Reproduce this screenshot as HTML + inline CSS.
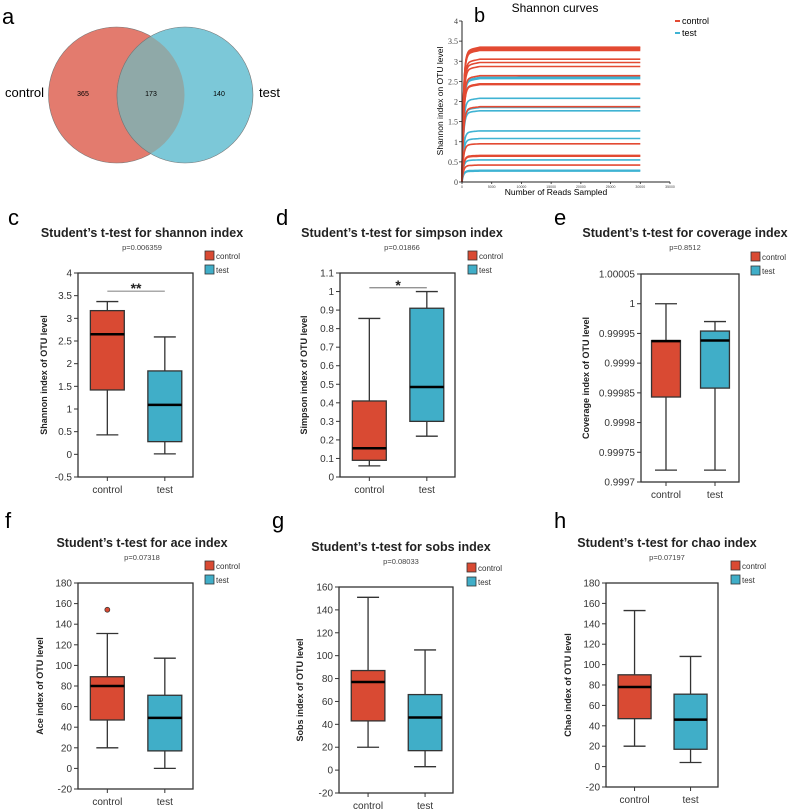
<!DOCTYPE html>
<html><head><meta charset="utf-8"><style>
html,body{margin:0;padding:0;background:#fff;}
svg{display:block;font-family:"Liberation Sans",sans-serif;}
</style></head><body>
<svg id="fig" width="798" height="810" viewBox="0 0 798 810" xmlns="http://www.w3.org/2000/svg">
<g>
<text x="2" y="24" font-size="22">a</text>
<circle cx="116.5" cy="95" r="68" fill="#e37b6e" stroke="#777" stroke-width="0.6"/>
<circle cx="185" cy="95" r="68" fill="#7cc8d8" stroke="#777" stroke-width="0.6"/>
<clipPath id="cl"><circle cx="116.5" cy="95" r="68"/></clipPath>
<circle cx="185" cy="95" r="68" fill="#8fa9a8" stroke="#777" stroke-width="0.6" clip-path="url(#cl)"/>
<text x="5" y="97" font-size="13">control</text>
<text x="259" y="97" font-size="13">test</text>
<text x="83" y="96" font-size="7" text-anchor="middle">365</text>
<text x="151" y="96" font-size="7" text-anchor="middle">173</text>
<text x="219" y="96" font-size="7" text-anchor="middle">140</text>
</g>
<g id="pb"></g>
<g id="boxes"></g>
</svg>
<script>
// Panel b data
const curveControl = [3.35,3.33,3.30,3.27,3.05,2.97,2.87,2.64,2.44,2.42,1.87,0.95,0.66,0.64,0.42];
const curveTest = [2.60,2.57,2.08,1.85,1.77,1.27,1.08,0.55,0.29,0.27];
const readsMax = 30000;
const bYTicks = [0,0.5,1,1.5,2,2.5,3,3.5,4];
const bXTicks = [0,5000,10000,15000,20000,25000,30000,35000];

// Box plot data: [min, q1, median, q3, max]
const panelNames = ['c','d','e','f','g','h'];
const panelTitles = ['shannon','simpson','coverage','ace','sobs','chao'];
const pValues = ['p=0.006359','p=0.01866','p=0.8512','p=0.07318','p=0.08033','p=0.07197'];
const controlStats = [[0.43,1.42,2.65,3.17,3.37],[0.06,0.09,0.155,0.41,0.855],[0.99972,0.999843,0.999937,0.999938,1.0],[20,47,80,89,131],[20,43,77,87,151],[20,47,78,90,153]];
const testStats = [[0.01,0.28,1.09,1.84,2.59],[0.22,0.3,0.485,0.91,1.0],[0.99972,0.999858,0.999938,0.999954,0.99997],[0,17,49,71,107],[3,17,46,66,105],[4,17,46,71,108]];
const controlOutliers = [[],[],[],[154],[],[]];
const sigMarks = [['**',3.6],['*',1.02],null,null,null,null];
const yTickLabels = [
 ['-0.5','0','0.5','1','1.5','2','2.5','3','3.5','4'],
 ['0','0.1','0.2','0.3','0.4','0.5','0.6','0.7','0.8','0.9','1','1.1'],
 ['0.9997','0.99975','0.9998','0.99985','0.9999','0.99995','1','1.00005'],
 ['-20','0','20','40','60','80','100','120','140','160','180'],
 ['-20','0','20','40','60','80','100','120','140','160'],
 ['-20','0','20','40','60','80','100','120','140','160','180']];

const NS='http://www.w3.org/2000/svg';
function mk(parent,tag,attrs,txt){const e=document.createElementNS(NS,tag);for(const k in attrs)e.setAttribute(k,attrs[k]);if(txt!==undefined)e.textContent=txt;parent.appendChild(e);return e;}

// ----- panel b -----
(function(){
 const g=document.getElementById('pb');
 const L=462,R=670,T=21,B=182;
 const xs=v=>L+(v/35000)*(R-L), ys=v=>B-(v/4)*(B-T);
 let t=mk(g,'text',{x:474,y:22,'font-size':20},'b');
 
 
 t=mk(g,'text',{x:555,y:12,'font-size':12,'text-anchor':'middle'},'Shannon curves');
 
 
 const drawCurve=(v,color,name)=>{
  let d='';
  for(let i=0;i<=60;i++){const x=readsMax*Math.pow(i/60,2);const y=v*(1-Math.exp(-x/250))*(0.97+0.03*Math.min(1,x/3000));d+=(i?'L':'M')+xs(x).toFixed(1)+','+ys(y).toFixed(1);}
  const p=mk(g,'path',{d:d,fill:'none',stroke:color,'stroke-width':1.6});
  
  
 };
 curveTest.forEach(v=>drawCurve(v,'#3fb3d3','test-curve'));
 curveControl.forEach(v=>drawCurve(v,'#e34a33','control-curve'));
 let ax=mk(g,'path',{d:`M${L},${T}V${B}H${R}`,fill:'none',stroke:'#222','stroke-width':1});
 
 
 bYTicks.forEach(v=>{mk(g,'line',{x1:L-3,x2:L,y1:ys(v),y2:ys(v),stroke:'#222','stroke-width':0.8});
  const tl=mk(g,'text',{x:L-4,y:ys(v)+3,'font-size':8,'text-anchor':'end','font-family':'Liberation Serif',fill:'#444'},String(v));
  
  });
 bXTicks.forEach(v=>{mk(g,'line',{x1:xs(v),x2:xs(v),y1:B,y2:B+2,stroke:'#222','stroke-width':0.8});
  const tl=mk(g,'text',{x:xs(v),y:B+6,'font-size':3.5,'text-anchor':'middle',fill:'#444'},String(v));
  
  });
 t=mk(g,'text',{x:556,y:195,'font-size':8.5,'text-anchor':'middle'},'Number of Reads Sampled');
 
 
 t=mk(g,'text',{x:443,y:101,'font-size':8.5,'text-anchor':'middle',transform:'rotate(-90 443 101)'},'Shannon index on OTU level');
 
 
 [['control','#e34a33',24],['test','#3fb3d3',36]].forEach(([n,c,y])=>{
  const l=mk(g,'line',{x1:675,x2:680,y1:y-3,y2:y-3,stroke:c,'stroke-width':2});
  
  
  const tt=mk(g,'text',{x:682,y:y,'font-size':9},n);
  
  
 });
})();

// ----- box plots -----
const layout=[
 {L:78,R:193,T:273,B:477,lab:[8,225],tx:142,ty:237,yt:47,lg:205,ly:257,mn:-0.5,mx:4},
 {L:340,R:455,T:273,B:477,lab:[276,225],tx:402,ty:237,yt:307,lg:468,ly:257,mn:0,mx:1.1},
 {L:641,R:739,T:274,B:482,lab:[554,225],tx:685,ty:237,yt:589,lg:751,ly:258,mn:0.9997,mx:1.00005},
 {L:78,R:193,T:583,B:789,lab:[5,528],tx:142,ty:547,yt:43,lg:205,ly:567,mn:-20,mx:180},
 {L:339,R:453,T:587,B:793,lab:[272,528],tx:401,ty:551,yt:303,lg:467,ly:569,mn:-20,mx:160},
 {L:606,R:718,T:583,B:787,lab:[554,528],tx:667,ty:547,yt:571,lg:731,ly:567,mn:-20,mx:180}];
const root=document.getElementById('boxes');
panelNames.forEach((pn,i)=>{
 const c=layout[i];
 const g=mk(root,'g',{});
 
 
 const ys=v=>c.B-(v-c.mn)/(c.mx-c.mn)*(c.B-c.T);
 const w=c.R-c.L;
 const xc=[c.L+w*0.255,c.L+w*0.755];
 const bw=w*0.295;
 let t=mk(g,'text',{x:c.lab[0],y:c.lab[1],'font-size':22},pn);
 
 
 t=mk(g,'text',{x:c.tx,y:c.ty,'font-size':12.5,'font-weight':'bold','text-anchor':'middle',fill:'#222'},'Student\u2019s t-test for '+panelTitles[i]+' index');
 
 
 t=mk(g,'text',{x:c.tx,y:c.ty+13,'font-size':7.5,'text-anchor':'middle',fill:'#444'},pValues[i]);
 
 
 [['control','#d94a33',0],['test','#40aec8',14]].forEach(([n,col,dy])=>{
  const r=mk(g,'rect',{x:c.lg,y:c.ly-6+dy,width:9,height:9,fill:col,stroke:'#333','stroke-width':0.8});
  
  
  const tt=mk(g,'text',{x:c.lg+11,y:c.ly+2+dy,'font-size':8,fill:'#333'},n);
  
  
 });
 const fr=mk(g,'rect',{x:c.L,y:c.T,width:w,height:c.B-c.T,fill:'none',stroke:'#333','stroke-width':1.3});
 
 
 yTickLabels[i].forEach(s=>{const v=parseFloat(s);const y=ys(v);
  mk(g,'line',{x1:c.L-4,x2:c.L,y1:y,y2:y,stroke:'#333','stroke-width':1});
  const tl=mk(g,'text',{x:c.L-6,y:y+3.5,'font-size':10,'text-anchor':'end',fill:'#333'},s);
  
  });
 const ym=(c.T+c.B)/2;
 t=mk(g,'text',{x:c.yt,y:ym,'font-size':9,'font-weight':'bold','text-anchor':'middle',transform:`rotate(-90 ${c.yt} ${ym})`,fill:'#222'},panelTitles[i][0].toUpperCase()+panelTitles[i].slice(1)+' index of OTU level');
 
 
 [['control','#d94a33',controlStats[i]],['test','#40aec8',testStats[i]]].forEach(([n,col,s],k)=>{
  const x=xc[k];
  mk(g,'line',{x1:x,x2:x,y1:c.B,y2:c.B+4,stroke:'#333','stroke-width':1});
  const xl=mk(g,'text',{x:x,y:c.B+16,'font-size':10,'text-anchor':'middle',fill:'#333'},n);
  
  
  const wh=mk(g,'path',{d:`M${x},${ys(s[0])}V${ys(s[1])}M${x},${ys(s[3])}V${ys(s[4])}M${x-11},${ys(s[0])}H${x+11}M${x-11},${ys(s[4])}H${x+11}`,stroke:'#333','stroke-width':1.3,fill:'none'});
  
  
  const bx=mk(g,'rect',{x:x-bw/2,y:ys(s[3]),width:bw,height:ys(s[1])-ys(s[3]),fill:col,stroke:'#333','stroke-width':1.3});
  
  
  const md=mk(g,'line',{x1:x-bw/2,x2:x+bw/2,y1:ys(s[2]),y2:ys(s[2]),stroke:'#000','stroke-width':2.5});
  
  
 });
 controlOutliers[i].forEach(v=>{
  const o=mk(g,'circle',{cx:xc[0],cy:ys(v),r:2.5,fill:'#d94a33',stroke:'#333','stroke-width':0.7});
  
  
 });
 if(sigMarks[i]){
  const y=ys(sigMarks[i][1]);
  const sl=mk(g,'line',{x1:xc[0],x2:xc[1],y1:y,y2:y,stroke:'#555','stroke-width':0.8});
  
  
  const st=mk(g,'text',{x:(xc[0]+xc[1])/2,y:y+2,'font-size':14,'font-weight':'bold','text-anchor':'middle',fill:'#222'},sigMarks[i][0]);
  
  
 }
});
</script>
</body></html>
